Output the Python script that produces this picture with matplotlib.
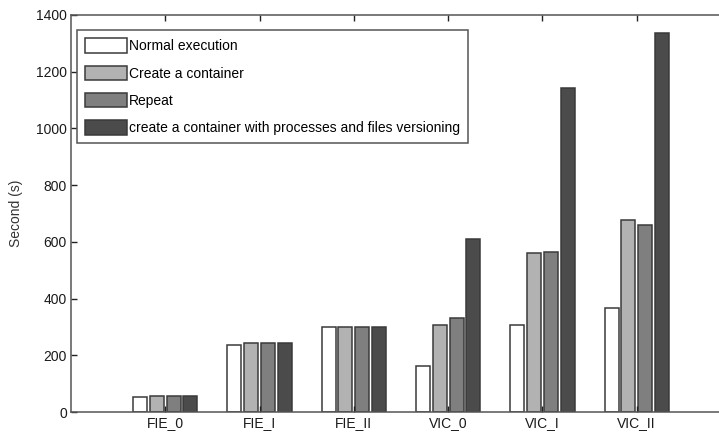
import numpy as np
import matplotlib
matplotlib.use("Agg")
import matplotlib.pyplot as plt

plt.rcParams['font.family'] = ['Liberation Sans', 'DejaVu Sans']

# data
categories = ['FIE_0', 'FIE_I', 'FIE_II', 'VIC_0', 'VIC_I', 'VIC_II']
series_names = [
    'Normal execution',
    'Create a container',
    'Repeat',
    'create a container with processes and files versioning',
]
normal = [52, 238, 298, 162, 306, 366]
create = [56, 242, 298, 306, 561, 676]
repeat = [56, 242, 298, 332, 564, 661]
versioning = [56, 242, 298, 609, 1143, 1337]

colors = ['#ffffff', '#b2b2b2', '#7f7f7f', '#4b4b4b']
edge = '#3a3a3a'
spine_c = '#555555'

fig = plt.figure(figsize=(7.19, 4.32), dpi=100)
# axes extends past the right edge, as in the cropped original
ax = fig.add_axes([71 / 719, 1 - 412 / 432, 660 / 719, 397 / 432])

x = np.arange(1, len(categories) + 1)
offsets = [-0.267, -0.089, 0.089, 0.267]
width = 0.148
for vals, off, col, name in zip([normal, create, repeat, versioning], offsets, colors, series_names):
    ax.bar(x + off, vals, width, color=col, edgecolor=edge, linewidth=1.1, label=name)

ax.set_xlim(0, 7)
ax.set_ylim(0, 1400)
ax.set_xticks(x)
ax.set_xticklabels(categories)
ax.set_yticks(range(0, 1401, 200))
ax.tick_params(direction='in', length=4, width=1, color='#222222', top=True,
               labelsize=10, pad=3, labelcolor='#1a1a1a')
ax.set_ylabel('Second (s)', fontsize=10, color='#333333', labelpad=9)

for s in ax.spines.values():
    s.set_color(spine_c)
    s.set_linewidth(1.1)

leg = ax.legend(loc='upper left', bbox_to_anchor=(77 / 719, 1 - 30 / 432),
                bbox_transform=fig.transFigure, borderaxespad=0,
                fancybox=False, fontsize=10, handlelength=3.0, handleheight=1.25,
                handletextpad=0.15, labelspacing=0.88, borderpad=0.6,
                framealpha=1)
leg.get_frame().set_edgecolor(spine_c)
leg.get_frame().set_linewidth(1.1)

fig.savefig('out.png', dpi=100)
